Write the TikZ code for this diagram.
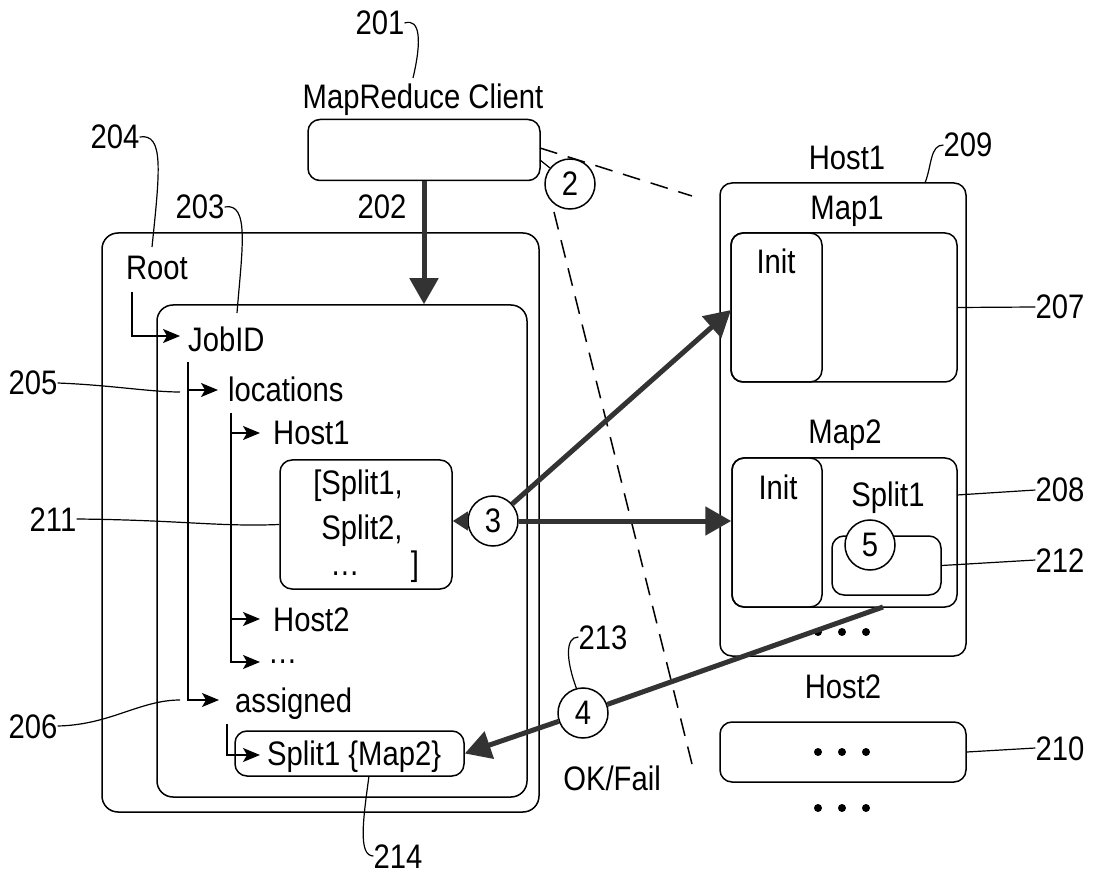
\documentclass[tikz,border=0pt]{standalone}
\usepackage{fontspec}
\setmainfont{Liberation Sans}[FakeStretch=0.86]
\usetikzlibrary{arrows.meta,positioning}

\begin{document}
\begin{tikzpicture}[x=1pt,y=-1pt,
  font=\fontsize{34}{44}\selectfont,
  box/.style={draw,line width=1.5pt,rounded corners=12pt,inner sep=0pt},
  circ/.style={draw,circle,fill=white,line width=1.5pt,minimum size=50pt,inner sep=0pt},
  txt/.style={inner sep=0pt,text height=24pt,text depth=0pt},
  tree/.style={line width=1.3pt,-{Stealth[length=17pt,width=14pt,inset=4pt]}},
  bigline/.style={line width=5pt,color=black!80},
  bigarr/.style={bigline,-{Triangle[length=26pt,width=28pt]}},
  lead/.style={line width=1.2pt},
  longdash/.style={line width=1.5pt,dash pattern=on 18pt off 11pt},
  dot/.style={circle,fill,inner sep=0pt,minimum size=8pt}
]
\useasboundingbox (0,0) rectangle (1093,874);

% client and the two nested boxes on the left
\node[box,minimum width=232pt,minimum height=61pt] (client) at (424,150) {};
\node[txt] (mrc) at (423,97) {MapReduce Client};
\node[box,rounded corners=16pt,minimum width=437pt,minimum height=579pt] (root) at (320.5,522.5) {};
\node[box,rounded corners=16pt,minimum width=370pt,minimum height=492pt] (job) at (342,551) {};
\node[box,minimum width=172pt,minimum height=129pt] (splitlist) at (366,524.5) {};
\node[box,minimum width=229pt,minimum height=45pt] (assign) at (349.5,753.5) {};

% tree texts
\node[txt] (roottxt) at (157,268) {Root};
\node[txt,anchor=west] (jobid) at (188,340) {JobID};
\node[txt,anchor=west] (locs) at (228,390) {locations};
\node[txt,anchor=west] (h1txt) at (273,433) {Host1};
\node[txt,anchor=west] (h2txt) at (273,619) {Host2};
\node[inner sep=0pt,anchor=west] (more) at (268,662) {\ldots};
\node[txt,anchor=west] (asgd) at (235,700) {assigned};
\node[txt,anchor=west] (asgtxt) at (267,753) {Split1 \{Map2\}};
\node[txt] (sl1) at (358,483) {[Split1,};
\node[txt] (sl2) at (362,527) {Split2,};
\node[inner sep=0pt] (sl3) at (345,574) {\ldots};
\node[inner sep=0pt] (slb) at (415,567) {]};

% tree connectors
\draw[tree] (132,292) |- (180,336);
\draw[tree] (188,362) |- (219,700);
\draw[tree] (188,390) -- (218,390);
\draw[tree] (231,413) |- (260,662);
\draw[tree] (231,433) -- (260,433);
\draw[tree] (231,619) -- (260,619);
\draw[tree] (227,724) |- (260,755);

% host boxes on the right
\node[box,minimum width=246pt,minimum height=473pt] (host1) at (843,419.5) {};
\node[box,minimum width=226pt,minimum height=149pt] (map1) at (844,307.5) {};
\node[box,minimum width=91pt,minimum height=149pt] (init1) at (776.5,307.5) {};
\node[box,minimum width=225pt,minimum height=149pt] (map2) at (844.5,532.5) {};
\node[box,minimum width=90pt,minimum height=149pt] (init2) at (777,532.5) {};
\node[box,minimum width=109pt,minimum height=59pt] (splitbox) at (886.5,565.5) {};
\node[box,minimum width=246pt,minimum height=60pt] (host2) at (843,752) {};
\node[txt] (h1name) at (847,158) {Host1};
\node[txt] (m1name) at (847,208) {Map1};
\node[txt] (i1name) at (776,262) {Init};
\node[txt] (m2name) at (845,432) {Map2};
\node[txt] (i2name) at (778,488) {Init};
\node[txt] (s1name) at (888,495) {Split1};
\node[txt] (h2name) at (843,686) {Host2};
\foreach \x [count=\i] in {818,842,866} {
  \node[dot] (hdot\i) at (\x,632) {};
  \node[dot] (bdot\i) at (\x,752) {};
  \node[dot] (edot\i) at (\x,808) {};
}

% dashed message lines around step 2
\coordinate (d1a) at (540,148);
\coordinate (d1b) at (692,196);
\coordinate (d2a) at (554,212);
\coordinate (d2b) at (693,768);
\draw[longdash] (d1a) -- (d1b);
\draw[longdash] (d2a) -- (d2b);
\node[txt] (okfail) at (612,778) {OK/Fail};

% numbered steps
\node[circ] (c2) at (570,184) {2};
\node[circ] (c3) at (493,521) {3};
\node[circ] (c4) at (583,713) {4};
\node[circ] (c5) at (870,545) {5};
\coordinate (cl2) at (540,160);
\draw[lead] (cl2) -- (c2);

% thick arrows
\coordinate (m1in) at (731,310);
\coordinate (m2out) at (883,607);
\draw[bigarr] (client.south) -- (client.south |- job.north);
\draw[bigarr] (c3) -- (m1in);
\draw[bigarr] (c3.east) -- (c3.east -| init2.west);
\draw[bigline,-{Triangle[length=15pt,width=18pt]}] (c3.west) -- (c3.west -| splitlist.east);
\draw[bigline] (m2out) -- (c4);
\draw[bigarr] (c4) -- (assign.east);

% reference numerals
\node[txt] (l201) at (380,23) {201};
\node[txt] (l202) at (382,207) {202};
\node[txt] (l203) at (200,207) {203};
\node[txt] (l204) at (115,137) {204};
\node[txt] (l205) at (33,383) {205};
\node[txt] (l206) at (33,726) {206};
\node[txt] (l207) at (1060,307) {207};
\node[txt] (l208) at (1060,490) {208};
\node[txt] (l209) at (968,145) {209};
\node[txt] (l210) at (1060,748) {210};
\node[txt] (l211) at (53,519) {211};
\node[txt] (l212) at (1060,560) {212};
\node[txt] (l213) at (603,637) {213};
\node[txt] (l214) at (398,856) {214};

% leader lines
\coordinate (e201) at (413,78);
\coordinate (e204) at (152,247);
\coordinate (e203) at (237,313);
\coordinate (e205) at (180,392);
\coordinate (e206) at (180,700);
\coordinate (e208) at (957,495);
\coordinate (e209) at (925,183);
\coordinate (e214) at (369,776);
\draw[lead] (l201.east) .. controls (420,18) and (422,40) .. (e201);
\draw[lead] (l204.east) .. controls (164,133) and (160,170) .. (e204);
\draw[lead] (l203.east) .. controls (250,202) and (242,250) .. (e203);
\draw[lead] (l209.west) .. controls (930,145) and (932,165) .. (e209);
\draw[lead] (l213.west) .. controls (565,637) and (566,660) .. (c4.105);
\draw[lead] (e214) .. controls (363,820) and (358,856) .. (l214.west);
\draw[lead] (l205.east) .. controls (110,385) and (150,392) .. (e205);
\draw[lead] (l206.east) .. controls (110,725) and (140,700) .. (e206);
\draw[lead] (l211.east) .. controls (180,520) and (220,527) .. (splitlist.west);
\draw[lead] (l207.west) -- (map1.east);
\draw[lead] (l208.west) -- (e208);
\draw[lead] (l212.west) -- (splitbox.east);
\draw[lead] (l210.west) -- (host2.east);
\end{tikzpicture}
\end{document}
